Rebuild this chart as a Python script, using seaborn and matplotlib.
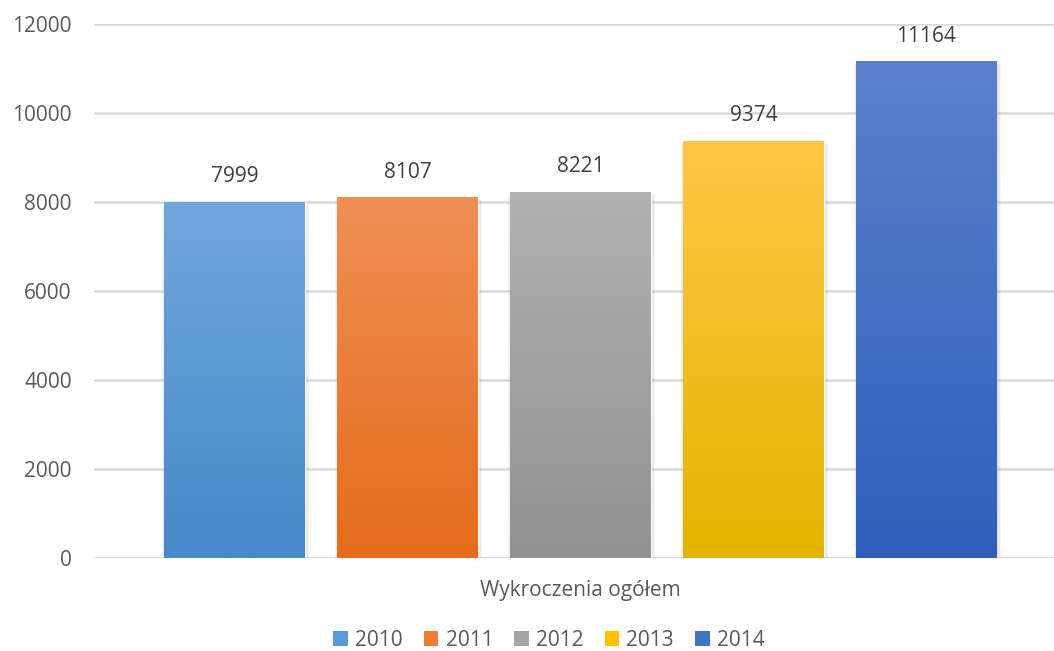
import numpy as np
import pandas as pd
import matplotlib
matplotlib.use("Agg")
import matplotlib.pyplot as plt
import seaborn as sns
from matplotlib.colors import LinearSegmentedColormap
from matplotlib.patches import Rectangle, Patch

category = ["Wykroczenia ogółem"]
years = ["2010", "2011", "2012", "2013", "2014"]
values = [7999, 8107, 8221, 9374, 11164]
y_ticks = [0, 2000, 4000, 6000, 8000, 10000, 12000]

base_colors = ["#5b9bd5", "#ed7d31", "#a5a5a5", "#ffc000", "#4472c4"]
top_colors = ["#71a7dc", "#f08f55", "#b1b1b1", "#ffc745", "#5b81ca"]
bottom_colors = ["#4589c8", "#e46c1b", "#929292", "#e5b400", "#2f5fbb"]

df = pd.DataFrame({"cat": category * len(years), "year": years, "value": values})

sns.set_theme(style="white")
plt.rcParams["font.family"] = ["Open Sans", "DejaVu Sans"]
text_color = "#595959"
fs = 15

fig = plt.figure(figsize=(10.54, 6.51), dpi=100)
ax = fig.add_axes([94 / 1054, 1 - 558 / 651, 1 - 94 / 1054, (558 - 24) / 651])

sns.barplot(data=df, x="cat", y="value", hue="year", palette=base_colors,
            width=0.8, gap=0.19, ax=ax, legend=False, saturation=1)

ax.set_ylim(0, 12000)
ax.set_xlim(-0.45, 0.438)
ax.set_yticks(y_ticks)
ax.set_yticklabels([str(t) for t in y_ticks])
ax.grid(axis="y", color="#d9d9d9", linewidth=1.8)
ax.set_axisbelow(True)
for s in ax.spines.values():
    s.set_visible(False)
ax.tick_params(axis="y", length=0, pad=16, labelsize=fs, labelcolor=text_color)
ax.tick_params(axis="x", length=0, pad=16, labelsize=fs, labelcolor=text_color)
ax.set_xlabel("")
ax.set_ylabel("")

# gradient fill + soft shadow for bars
bars = [p for p in ax.patches if isinstance(p, Rectangle) and p.get_height() > 0]
bars = sorted(bars, key=lambda p: p.get_x())
for i, p in enumerate(bars):
    x0, w, h = p.get_x(), p.get_width(), p.get_height()
    for k, a in enumerate([0.07, 0.05, 0.035]):
        d = 0.0015 * (k + 1)
        sh = Rectangle((x0 - d * 0.5, -40 * (k + 1)), w + d * 1.5, h + 20 * (k + 1),
                       facecolor="black", edgecolor="none", alpha=a, zorder=1.5)
        ax.add_patch(sh)
    cmap = LinearSegmentedColormap.from_list(f"g{i}", [bottom_colors[i], top_colors[i]])
    grad = np.linspace(0, 1, 256).reshape(-1, 1)
    im = ax.imshow(grad, extent=[x0, x0 + w, 0, h], origin="lower", aspect="auto",
                   cmap=cmap, zorder=2.5)
    im.set_clip_path(p)
    p.set_zorder(2)
    ax.text(x0 + w / 2, h + 330, f"{values[i]}", ha="center", va="bottom",
            fontsize=fs, color="#404040", zorder=3)

ax.set_xlim(-0.45, 0.438)
ax.set_ylim(0, 12000)

handles = [Patch(facecolor=c, edgecolor="none") for c in base_colors]
fig.legend(handles, years, loc="center", bbox_to_anchor=(549 / 1054, 1 - 640 / 651),
           ncol=5, frameon=False, fontsize=fs, labelcolor=text_color,
           handlelength=0.7, handleheight=0.7, handletextpad=0.35, columnspacing=1.0)

fig.savefig("out.png", dpi=100, facecolor="white")
